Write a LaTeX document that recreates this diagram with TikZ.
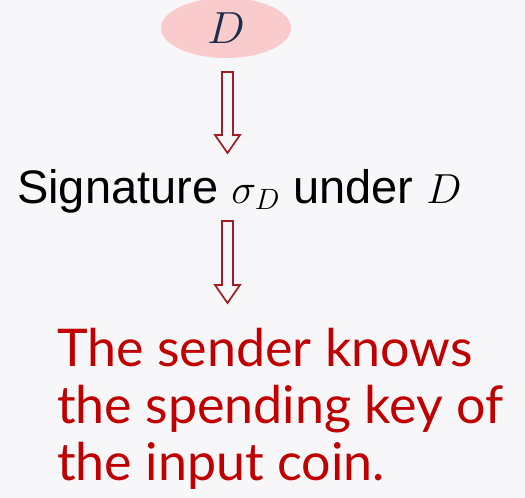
\RequirePackage{fix-cm}
\documentclass[tikz,border=0pt]{standalone}
\usepackage{fontspec}
\setmainfont{Liberation Sans}
\newfontfamily\notefont{Lato}
\usetikzlibrary{shapes}
\usetikzlibrary{positioning}

\definecolor{bgcol}{HTML}{F7F7F9}
\definecolor{keypink}{HTML}{F9CBCC}
\definecolor{keynavy}{HTML}{1B2F4B}
\definecolor{arrowred}{HTML}{A01D24}
\definecolor{notered}{HTML}{C00000}

\newcommand{\mathsz}[1]{{\fontsize{42}{42}\selectfont$#1$}}

\tikzset{
  hollow/.style={draw=arrowred, line width=1.7pt, line join=miter,
    to path={([xshift=-5.5pt]\tikztostart) -- ([xshift=-5.5pt,yshift=18pt]\tikztotarget)
      -- ([xshift=-12.5pt,yshift=18pt]\tikztotarget) -- (\tikztotarget)
      -- ([xshift=12.5pt,yshift=18pt]\tikztotarget) -- ([xshift=5.5pt,yshift=18pt]\tikztotarget)
      -- ([xshift=5.5pt]\tikztostart) -- cycle}}
}

\begin{document}
\begin{tikzpicture}[x=1pt, y=-1pt]

    \fill[bgcol] (0,0) rectangle (525,498);
    \useasboundingbox (0,0) rectangle (525,498);

    % key D
    \node(D)[ellipse, fill=keypink, minimum width=130pt, minimum height=60pt, inner sep=0pt,
        text=keynavy, font=\fontsize{45}{45}\selectfont] at (226,28) {$D$};

    % signature line
    \node(sig)[anchor=base west, inner sep=0pt, font=\fontsize{47}{47}\selectfont]
        at (17,203) {Signature \mathsz{\sigma_D} under \mathsz{D}};

    % conclusion
    \node(note)[anchor=north west, inner sep=0pt, align=left, text=notered,
        font=\notefont\fontsize{52}{57}\selectfont] at (57,328)
        {The sender knows\\the spending key of\\the input coin.};

    \coordinate(a1top) at (227.5,72);
    \coordinate(a1tip) at (227.5,153);
    \coordinate(a2top) at (227.5,221);
    \coordinate(a2tip) at (227.5,303);

    \draw[hollow] (a1top) to (a1tip);
    \draw[hollow] (a2top) to (a2tip);

\end{tikzpicture}
\end{document}
